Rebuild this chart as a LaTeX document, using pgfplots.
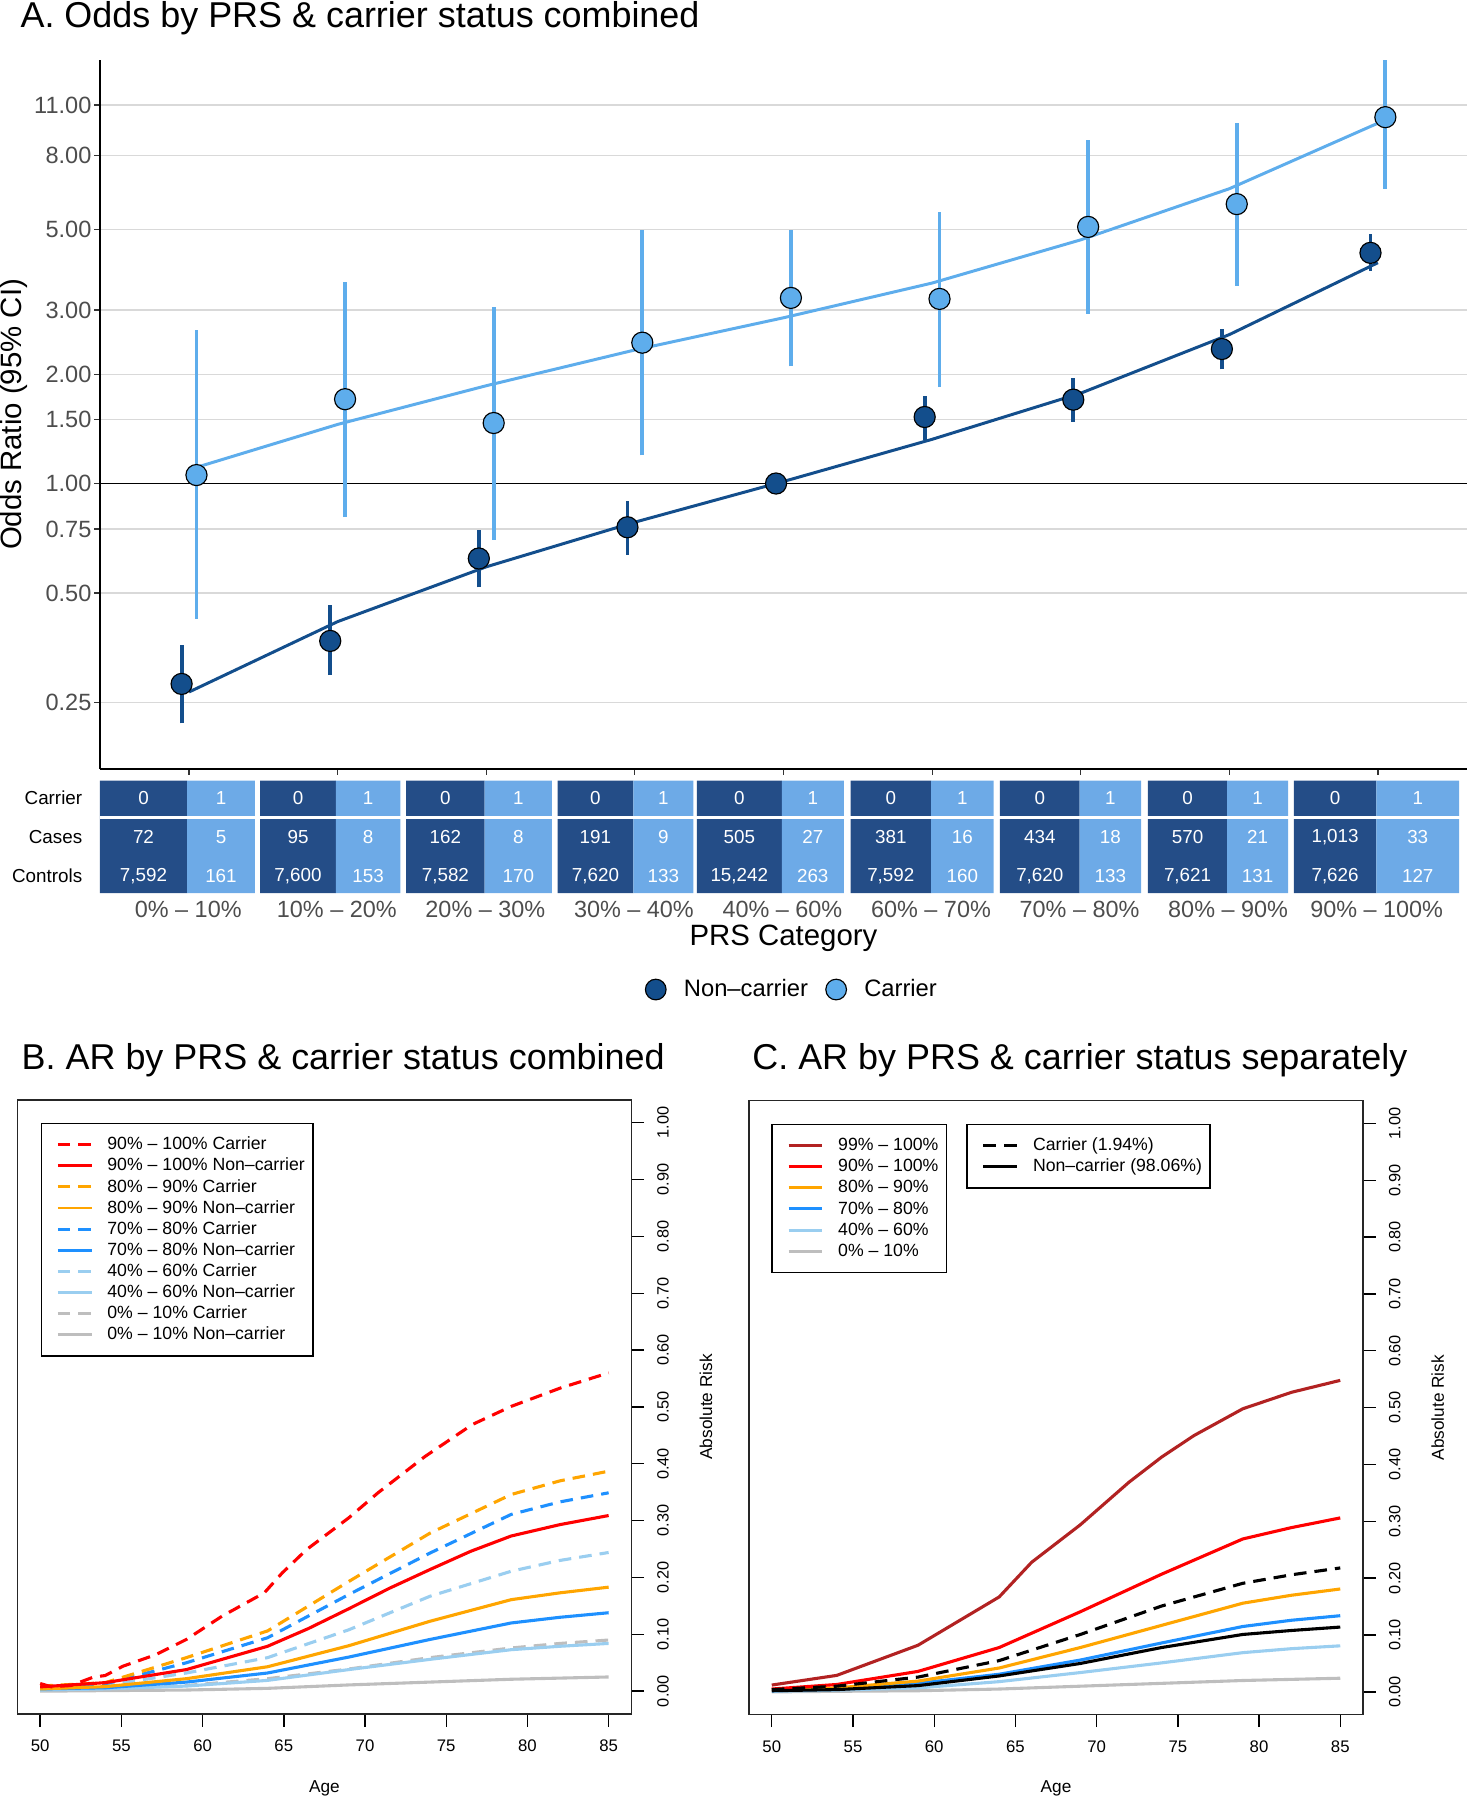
\documentclass[border=0pt]{standalone}
\usepackage{fontspec}
\setmainfont{Liberation Sans}
\usepackage{pgfplots}
\usepackage{pgfplotstable}
\pgfplotsset{compat=1.18}

\definecolor{ncdark}{HTML}{134E8C}
\definecolor{clight}{HTML}{5EADEC}
\definecolor{tdark}{HTML}{244D87}
\definecolor{tlight}{HTML}{6DAAE7}
\definecolor{gridc}{HTML}{D9D9D9}
\definecolor{gtxt}{HTML}{4D4D4D}
\definecolor{firebr}{HTML}{B22222}
\definecolor{rorange}{HTML}{FFA500}
\definecolor{rblue}{HTML}{1E90FF}
\definecolor{rlblue}{HTML}{9ACEF0}
\definecolor{rgray}{HTML}{BEBEBE}

\newcommand{\fs}[1]{\fontsize{#1}{#1}\selectfont}

% odds ratios, panel A (x is the dodged category position)
\pgfplotstableread{
x    or
0.95 0.281
1.95 0.369
2.95 0.622
3.95 0.758
4.95 1.000
5.95 1.524
6.95 1.701
7.95 2.344
8.95 4.31
}\noncarrier
\pgfplotstableread{
x    or
1.05 1.055
2.05 1.706
3.05 1.467
4.05 2.44
5.05 3.24
6.05 3.22
7.05 5.08
8.05 5.87
9.05 10.18
}\carrier

% counts table under panel A
\pgfplotstableread{
x y lab
125 83 0
192.5 83 1
259.6 83 0
320.7 83 1
388 83 0
451.5 83 1
518.7 83 0
577.9 83 1
644 83 0
708 83 1
776 83 0
838.3 83 1
905.8 83 0
967.3 83 1
1034.5 83 0
1095.5 83 1
1163 83 0
1235 83 1
125 49 72
192.5 49 5
259.6 49 95
320.7 49 8
388 49 162
451.5 49 8
518.7 49 191
577.9 49 9
644 49 505
708 49 27
776 49 381
838.3 49 16
905.8 49 434
967.3 49 18
1034.5 49 570
1095.5 49 21
1163 49 1,013
1235 49 33
125 15 7,592
192.5 15 161
259.6 15 7,600
320.7 15 153
388 15 7,582
451.5 15 170
518.7 15 7,620
577.9 15 133
644 15 15,242
708 15 263
776 15 7,592
838.3 15 160
905.8 15 7,620
967.3 15 133
1034.5 15 7,621
1095.5 15 131
1163 15 7,626
1235 15 127
}\tabtext

\pgfplotsset{
  cell/.style={draw=none, forget plot},
  ar/.style={
    scale only axis, width=267.4pt, height=267.4pt,
    xmin=48.6, xmax=86.4, ymin=-0.04, ymax=1.04,
    axis line style={line width=0.7pt, black!85},
    xtick={50,55,60,65,70,75,80,85},
    xticklabels={50,55,60,65,70,75,80,85},
    ytick={0,0.1,0.2,0.3,0.4,0.5,0.6,0.7,0.8,0.9,1},
    yticklabels={0.00,0.10,0.20,0.30,0.40,0.50,0.60,0.70,0.80,0.90,1.00},
    xtick pos=left, ytick pos=right, yticklabel pos=right,
    tick align=outside, major tick length=5.5pt,
    tick style={line width=0.6pt, black},
    xticklabel style={font=\fs{7.3}, anchor=center, inner sep=0pt, yshift=-8.5pt},
    yticklabel style={font=\fs{7.1}, xshift=8.3pt, rotate=90, anchor=center, inner sep=0pt},
    xlabel={Age},
    xlabel style={font=\fs{7.5}, at={(axis description cs:0.5,-0.1208)}, anchor=center},
    ylabel={Absolute Risk},
    ylabel style={font=\fs{7.5}, at={(axis description cs:1.1216,0.5)}, anchor=center},
    legend style={anchor=north west, draw=black, line width=0.6pt, fill=white,
      font=\fs{7.7}, inner xsep=3.5pt, inner ysep=5.5pt, row sep=1.7pt,
      nodes={inner sep=0pt, text height=6pt, text depth=1.5pt},
      /tikz/every odd column/.append style={column sep=6.2pt}},
    legend cell align=left,
    legend image code/.code={\path (0pt,0pt); \draw[#1, line width=1.3pt] (3pt,0pt) -- (17.75pt,0pt);},
  },
  dsh/.style={dash pattern=on 5.5pt off 3.5pt},
  arl/.style={line width=1.35pt},
}

\begin{document}
\begin{tikzpicture}

\node[anchor=base west, inner sep=0pt, font=\fs{15.65}] at (8.75pt,-12pt) {A. Odds by PRS \& carrier status combined};
\node[anchor=base west, inner sep=0pt, font=\fs{15.65}] at (9.25pt,-466pt) {B. AR by PRS \& carrier status combined};
\node[anchor=base west, inner sep=0pt, font=\fs{15.65}] at (327.5pt,-466pt) {C. AR by PRS \& carrier status separately};

% ---------------- panel A
\begin{axis}[
  at={(43.5pt,-335pt)}, anchor=south west,
  scale only axis, width=595.5pt, height=309pt,
  ymode=log, ymin=0.1638, ymax=14.65,
  xmin=0.4, xmax=9.6,
  axis x line*=bottom, axis y line*=left,
  axis line style={-, line width=0.6pt, black},
  xtick={1,2,3,4,5,6,7,8,9}, xticklabels={},
  ytick={0.25,0.5,0.75,1,1.5,2,3,5,8,11},
  yticklabels={0.25,0.50,0.75,1.00,1.50,2.00,3.00,5.00,8.00,11.00},
  yminorticks=false,
  ymajorgrids, grid style={gridc, line width=0.5pt},
  tick align=outside, major tick length=2.5pt,
  tick style={black!80, line width=0.5pt},
  yticklabel style={font=\fs{10.25}, text=gtxt, anchor=east, inner sep=0pt, xshift=-1pt},
  ylabel={Odds Ratio (95\% CI)},
  ylabel style={font=\fs{12.8}, at={(axis description cs:-0.063,0.5)}, anchor=center},
  unbounded coords=jump,
]
\addplot[black, line width=0.6pt] coordinates {(0.4,1) (9.6,1)};
\addplot[ncdark, line width=1.3pt] coordinates {
  (1,0.267) (2,0.417) (3,0.590) (4,0.783) (5,1.013) (6,1.323) (7,1.772) (8,2.568) (9,4.05)};
\addplot[clight, line width=1.3pt] coordinates {
  (1,1.092) (2,1.454) (3,1.858) (4,2.33) (5,2.857) (6,3.56) (7,4.68) (8,6.47) (9,9.80)};
% 95% CI
\addplot[ncdark, line width=1.65pt] coordinates {
  (0.95,0.219) (0.95,0.360) (nan,nan)
  (1.95,0.297) (1.95,0.463) (nan,nan)
  (2.95,0.518) (2.95,0.744) (nan,nan)
  (3.95,0.636) (3.95,0.893) (nan,nan)
  (5.95,1.315) (5.95,1.744) (nan,nan)
  (6.95,1.481) (6.95,1.947) (nan,nan)
  (7.95,2.061) (7.95,2.667) (nan,nan)
  (8.95,3.84) (8.95,4.86)};
\addplot[clight, line width=1.65pt] coordinates {
  (1.05,0.424) (1.05,2.64) (nan,nan)
  (2.05,0.808) (2.05,3.58) (nan,nan)
  (3.05,0.701) (3.05,3.05) (nan,nan)
  (4.05,1.196) (4.05,4.97) (nan,nan)
  (5.05,2.10) (5.05,4.98) (nan,nan)
  (6.05,1.84) (6.05,5.60) (nan,nan)
  (7.05,2.93) (7.05,8.81) (nan,nan)
  (8.05,3.50) (8.05,9.80) (nan,nan)
  (9.05,6.47) (9.05,14.6)};
\addplot[only marks, mark=*, mark size=4.6pt, mark options={fill=ncdark, draw=black, line width=0.5pt}]
  table[x=x, y=or] {\noncarrier};
\addplot[only marks, mark=*, mark size=4.6pt, mark options={fill=clight, draw=black, line width=0.5pt}]
  table[x=x, y=or] {\carrier};
\end{axis}

% ---------------- counts table
\begin{axis}[
  at={(43.5pt,-389pt)}, anchor=south west,
  scale only axis, width=595.5pt, height=49pt,
  xmin=87, xmax=1278, ymin=0, ymax=98,
  axis line style={draw=none},
  major tick length=0pt,
  xtick={164,293.4,422.8,552.2,681.6,811,940.4,1069.8,1199.2},
  xticklabels={0\% – 10\%,10\% – 20\%,20\% – 30\%,30\% – 40\%,40\% – 60\%,60\% – 70\%,70\% – 80\%,80\% – 90\%,90\% – 100\%},
  xticklabel style={font=\fs{10.2}, text=gtxt, anchor=center, inner sep=0pt, yshift=-7pt},
  ytick={15,49,83}, yticklabels={Controls,Cases,Carrier},
  yticklabel style={font=\fs{8.2}, anchor=east, inner sep=0pt, xshift=-7.5pt},
  xlabel={PRS Category},
  xlabel style={font=\fs{12.8}, at={(axis description cs:0.5,-0.398)}, anchor=center},
  legend style={at={(axis description cs:0.5054,-0.857)}, anchor=center, draw=none, fill=none,
    font=\fs{10.35}, legend columns=2, column sep=7.5pt, nodes={inner sep=0pt}},
  legend cell align=left,
  legend image code/.code={\filldraw[#1, draw=black, line width=0.5pt] (4.5pt,0pt) circle (4.5pt);},
]
\addplot[cell, fill=tdark]  coordinates {(87,0) (87,98) (163,98) (163,0)} \closedcycle;
\addplot[cell, fill=tlight] coordinates {(163,0) (163,98) (222,98) (222,0)} \closedcycle;
\addplot[cell, fill=tdark]  coordinates {(226.6,0) (226.6,98) (292.6,98) (292.6,0)} \closedcycle;
\addplot[cell, fill=tlight] coordinates {(292.6,0) (292.6,98) (348.8,98) (348.8,0)} \closedcycle;
\addplot[cell, fill=tdark]  coordinates {(353.7,0) (353.7,98) (422.2,98) (422.2,0)} \closedcycle;
\addplot[cell, fill=tlight] coordinates {(422.2,0) (422.2,98) (480.8,98) (480.8,0)} \closedcycle;
\addplot[cell, fill=tdark]  coordinates {(485.7,0) (485.7,98) (551.7,98) (551.7,0)} \closedcycle;
\addplot[cell, fill=tlight] coordinates {(551.7,0) (551.7,98) (604,98) (604,0)} \closedcycle;
\addplot[cell, fill=tdark]  coordinates {(607,0) (607,98) (681,98) (681,0)} \closedcycle;
\addplot[cell, fill=tlight] coordinates {(681,0) (681,98) (735,98) (735,0)} \closedcycle;
\addplot[cell, fill=tdark]  coordinates {(741,0) (741,98) (811,98) (811,0)} \closedcycle;
\addplot[cell, fill=tlight] coordinates {(811,0) (811,98) (865.5,98) (865.5,0)} \closedcycle;
\addplot[cell, fill=tdark]  coordinates {(871,0) (871,98) (940.5,98) (940.5,0)} \closedcycle;
\addplot[cell, fill=tlight] coordinates {(940.5,0) (940.5,98) (994,98) (994,0)} \closedcycle;
\addplot[cell, fill=tdark]  coordinates {(1000,0) (1000,98) (1069,98) (1069,0)} \closedcycle;
\addplot[cell, fill=tlight] coordinates {(1069,0) (1069,98) (1122,98) (1122,0)} \closedcycle;
\addplot[cell, fill=tdark]  coordinates {(1127,0) (1127,98) (1199,98) (1199,0)} \closedcycle;
\addplot[cell, fill=tlight] coordinates {(1199,0) (1199,98) (1271,98) (1271,0)} \closedcycle;
\addplot[white, line width=1pt, forget plot] coordinates {(87,66) (1278,66)};
\addplot[only marks, mark=none, forget plot, point meta=explicit symbolic,
  nodes near coords, nodes near coords align={center},
  every node near coord/.append style={text=white, font=\fs{8.2}, inner sep=0pt}]
  table[x=x, y=y, meta=lab] {\tabtext};
\addlegendimage{fill=ncdark}\addlegendentry{Non–carrier}
\addlegendimage{fill=clight}\addlegendentry{Carrier}
\end{axis}

% ---------------- panel B
\begin{axis}[ar, at={(7.6pt,-746.5pt)}, anchor=south west,
  legend style={at={(axis description cs:0.0378,0.963)}}, reverse legend]
\addplot[rgray, arl] coordinates {(50,0.000) (54,0.001) (59,0.002) (64,0.005) (69,0.011) (74,0.016) (79,0.021) (82,0.023) (85,0.025)};
\addlegendentry{0\% – 10\% Non–carrier}
\addplot[rgray, dsh, arl] coordinates {(50,0.003) (54,0.005) (59,0.010) (64,0.022) (69,0.039) (74,0.059) (79,0.076) (82,0.084) (85,0.090)};
\addlegendentry{0\% – 10\% Carrier}
\addplot[rlblue, arl] coordinates {(50,0.002) (54,0.004) (59,0.009) (64,0.019) (69,0.038) (74,0.056) (79,0.073) (82,0.079) (85,0.084)};
\addlegendentry{40\% – 60\% Non–carrier}
\addplot[rlblue, dsh, arl] coordinates {(50,0.006) (54,0.010) (59,0.032) (64,0.059) (69,0.108) (74,0.167) (79,0.211) (82,0.230) (85,0.244)};
\addlegendentry{40\% – 60\% Carrier}
\addplot[rblue, arl] coordinates {(50,0.004) (54,0.006) (59,0.016) (64,0.032) (69,0.060) (74,0.091) (79,0.120) (82,0.130) (85,0.138)};
\addlegendentry{70\% – 80\% Non–carrier}
\addplot[rblue, dsh, arl] coordinates {(50,0.008) (54,0.013) (59,0.050) (64,0.094) (69,0.170) (74,0.243) (79,0.311) (82,0.333) (85,0.349)};
\addlegendentry{70\% – 80\% Carrier}
\addplot[rorange, arl] coordinates {(50,0.004) (54,0.008) (59,0.022) (64,0.043) (69,0.080) (74,0.123) (79,0.161) (82,0.173) (85,0.183)};
\addlegendentry{80\% – 90\% Non–carrier}
\addplot[rorange, dsh, arl] coordinates {(50,0.009) (54,0.015) (59,0.059) (64,0.106) (69,0.193) (74,0.278) (79,0.346) (82,0.370) (85,0.387)};
\addlegendentry{80\% – 90\% Carrier}
\addplot[red, arl] coordinates {(50,0.0076) (54,0.015) (59,0.038) (64,0.079) (66.5,0.110) (69,0.145) (71.5,0.181) (74,0.214) (76.5,0.246) (79,0.273) (82,0.293) (85,0.309)};
\addlegendentry{90\% – 100\% Non–carrier}
\addplot[red, dsh, arl] coordinates {(50,0.0135) (50.7,0.0076) (51.9,0.010) (53.3,0.025) (54,0.0275) (55.1,0.044) (57.1,0.064) (59,0.091) (61.2,0.132) (63.8,0.173) (64.9,0.208) (66.4,0.249) (69,0.305) (70.8,0.349) (73.7,0.413) (76.6,0.469) (79,0.501) (82,0.533) (85,0.560)};
\addlegendentry{90\% – 100\% Carrier}
\end{axis}

% ---------------- panel C
\begin{axis}[ar, at={(326.25pt,-746.8pt)}, anchor=south west,
  legend style={at={(axis description cs:0.0365,0.9626)}}, reverse legend]
\addplot[rgray, arl] coordinates {(50,0.000) (54,0.001) (59,0.002) (64,0.005) (69,0.010) (74,0.015) (79,0.020) (82,0.022) (85,0.024)};
\addlegendentry{0\% – 10\%}
\addplot[rlblue, arl] coordinates {(50,0.001) (54,0.003) (59,0.007) (64,0.018) (69,0.034) (74,0.051) (79,0.069) (82,0.076) (85,0.081)};
\addlegendentry{40\% – 60\%}
\addplot[rblue, arl] coordinates {(50,0.002) (54,0.005) (59,0.015) (64,0.031) (69,0.056) (74,0.086) (79,0.115) (82,0.126) (85,0.134)};
\addlegendentry{70\% – 80\%}
\addplot[rorange, arl] coordinates {(50,0.003) (54,0.007) (59,0.019) (64,0.042) (69,0.078) (74,0.117) (79,0.156) (82,0.170) (85,0.181)};
\addlegendentry{80\% – 90\%}
\addplot[red, arl] coordinates {(50,0.005) (54,0.013) (59,0.036) (64,0.078) (69,0.141) (74,0.207) (79,0.269) (82,0.289) (85,0.306)};
\addlegendentry{90\% – 100\%}
\addplot[firebr, arl] coordinates {(50,0.012) (54,0.029) (59,0.082) (64,0.167) (66,0.228) (69,0.294) (72,0.369) (74,0.413) (76,0.451) (79,0.498) (82,0.527) (85,0.548)};
\addlegendentry{99\% – 100\%}
\end{axis}

\begin{axis}[ar, at={(326.25pt,-746.8pt)}, anchor=south west, hide axis,
  legend style={at={(axis description cs:0.3538,0.9626)}}]
\addplot[black, dsh, arl] coordinates {(50,0.004) (54,0.010) (59,0.026) (64,0.055) (69,0.101) (74,0.151) (79,0.191) (82,0.206) (85,0.218)};
\addlegendentry{Carrier (1.94\%)}
\addplot[black, arl] coordinates {(50,0.002) (54,0.004) (59,0.011) (64,0.028) (69,0.050) (74,0.078) (79,0.101) (82,0.108) (85,0.114)};
\addlegendentry{Non–carrier (98.06\%)}
\end{axis}

\pgfresetboundingbox
\useasboundingbox (0pt,0pt) rectangle (639pt,-784pt);
\end{tikzpicture}
\end{document}
